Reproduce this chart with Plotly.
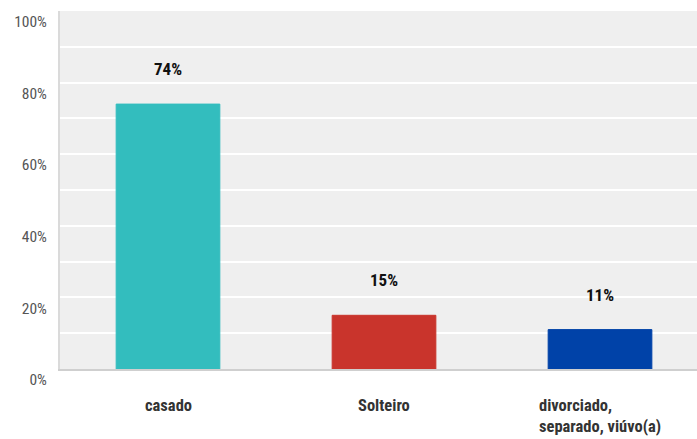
import plotly.graph_objects as go

categories = ["casado", "Solteiro", "divorciado,<br>separado, viúvo(a)"]
values = [74, 15, 11]
colors = ["#33bdbe", "#c9342c", "#0042a8"]
y_ticks = [0, 20, 40, 60, 80, 100]
y_tick_labels = ["0%", "20%", "40%", "60%", "80%", "100%"]

FONT = "Liberation Sans Narrow, Roboto Condensed, Arial Narrow, Roboto, sans-serif"

fig = go.Figure()
fig.add_trace(go.Bar(
    x=list(range(len(categories))),
    y=values,
    width=0.48,
    marker=dict(color=colors, line=dict(color=colors, width=1)),
    hoverinfo="skip",
))

# value labels above each bar
for i, v in enumerate(values):
    fig.add_annotation(x=i, y=v, text=f"<b>{v}%</b>", showarrow=False,
                       yanchor="middle", yshift=35,
                       font=dict(family=FONT, size=17, color="#111111"))

# category labels below the axis
for i, c in enumerate(categories):
    fig.add_annotation(x=i, y=0, yref="paper", text=f"<b>{c}</b>", showarrow=False,
                       yanchor="top", yshift=-25, align="left",
                       font=dict(family=FONT, size=16.5, color="#333333"))

fig.update_layout(
    width=697, height=439,
    margin=dict(l=60, r=0, t=11, b=70),
    paper_bgcolor="white",
    plot_bgcolor="#efefef",
    showlegend=False,
    xaxis=dict(range=[-0.5, 2.449], showticklabels=False, showgrid=False,
               zeroline=False, showline=True, linecolor="#cfcfcf", linewidth=2,
               fixedrange=True),
    yaxis=dict(range=[0, 100], tickvals=y_ticks, ticktext=y_tick_labels,
               ticklabelposition="outside bottom", ticklabelstandoff=8,
               showgrid=True, gridcolor="white", gridwidth=2,
               minor=dict(dtick=10, showgrid=True, gridcolor="white", gridwidth=2),
               zeroline=False, showline=True, linecolor="#dadada", linewidth=2,
               tickfont=dict(family=FONT, size=15.5, color="#555555"),
               fixedrange=True),
)

fig.write_html("out.html")
